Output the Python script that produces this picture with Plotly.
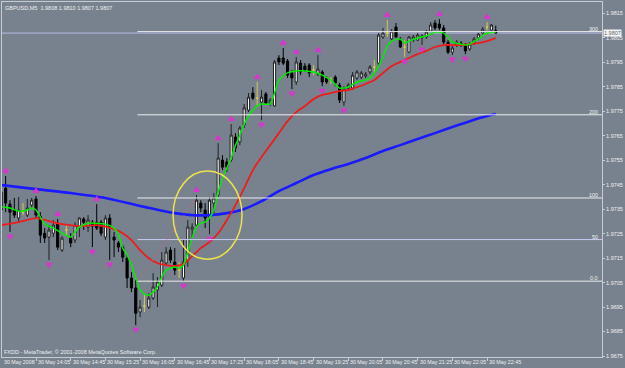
import plotly.graph_objects as go

# ---------------- data (GBPUSD, M5, 30 May 2008) ----------------
tick_idx = [0, 8, 16, 24, 32, 40, 48, 56, 64, 72, 80, 88, 96, 104, 112]
tick_labels = ["30 May 2008", "30 May 14:05", "30 May 14:45", "30 May 15:25", "30 May 16:05",
               "30 May 16:45", "30 May 17:25", "30 May 18:05", "30 May 18:45", "30 May 19:25",
               "30 May 20:05", "30 May 20:45", "30 May 21:25", "30 May 22:05", "30 May 22:45"]

price_ticks = [1.9675, 1.9685, 1.9695, 1.9705, 1.9715, 1.9725, 1.9735, 1.9745,
               1.9755, 1.9765, 1.9775, 1.9785, 1.9795, 1.9805, 1.9815]
price_labels = ["1.9675", "1.9685", "1.9695", "1.9705", "1.9715", "1.9725", "1.9735", "1.9745",
                "1.9755", "1.9765", "1.9775", "1.9785", "1.9795", "1.9805", "1.9815"]

opens = [1.97347, 1.97436, 1.97371, 1.97347, 1.97314, 1.97338, 1.97326, 1.97367, 1.97392, 1.97322,
         1.97252, 1.97236, 1.97252, 1.97293, 1.97183, 1.97265, 1.97232, 1.97224, 1.97277, 1.97310,
         1.97277, 1.97297, 1.97297, 1.97297, 1.97236, 1.97314, 1.97236, 1.97212, 1.97195, 1.97150,
         1.97069, 1.97028, 1.96930, 1.96954, 1.96950, 1.96987, 1.97020, 1.97040, 1.97130, 1.97183,
         1.97134, 1.97101, 1.97069, 1.97142, 1.97269, 1.97285, 1.97375, 1.97347, 1.97318, 1.97375,
         1.97408, 1.97551, 1.97543, 1.97551, 1.97645, 1.97625, 1.97694, 1.97755, 1.97825, 1.97804,
         1.97788, 1.97821, 1.97784, 1.97772, 1.97968, 1.97968, 1.97956, 1.97907, 1.97870, 1.97947,
         1.97935, 1.97939, 1.97919, 1.97902, 1.97911, 1.97886, 1.97878, 1.97890, 1.97858, 1.97788,
         1.97845, 1.97845, 1.97886, 1.97890, 1.97894, 1.97911, 1.97931, 1.97947, 1.98054, 1.98070,
         1.98046, 1.98095, 1.98046, 1.98013, 1.97992, 1.98041, 1.98041, 1.98050, 1.98054, 1.98078,
         1.98111, 1.98107, 1.98091, 1.98033, 1.97992, 1.98021, 1.98029, 1.98021, 1.98005, 1.98029,
         1.98050, 1.98070, 1.98095, 1.98082, 1.98080]
highs = [1.97428, 1.97486, 1.97387, 1.97396, 1.97400, 1.97375, 1.97392, 1.97396, 1.97404, 1.97338,
         1.97273, 1.97285, 1.97306, 1.97310, 1.97240, 1.97289, 1.97252, 1.97297, 1.97318, 1.97318,
         1.97326, 1.97306, 1.97371, 1.97306, 1.97326, 1.97330, 1.97257, 1.97220, 1.97203, 1.97163,
         1.97093, 1.97060, 1.96979, 1.96999, 1.97007, 1.97089, 1.97073, 1.97175, 1.97195, 1.97195,
         1.97191, 1.97134, 1.97224, 1.97306, 1.97293, 1.97408, 1.97387, 1.97375, 1.97400, 1.97416,
         1.97620, 1.97571, 1.97559, 1.97698, 1.97661, 1.97690, 1.97780, 1.97825, 1.97849, 1.97870,
         1.97837, 1.97829, 1.97804, 1.97960, 1.97980, 1.98009, 1.97964, 1.97919, 1.97972, 1.97960,
         1.97947, 1.97947, 1.97939, 1.97980, 1.97919, 1.97894, 1.97890, 1.97898, 1.97866, 1.97853,
         1.97866, 1.97911, 1.97919, 1.97915, 1.97911, 1.97939, 1.97960, 1.98070, 1.98091, 1.98123,
         1.98086, 1.98111, 1.98054, 1.98041, 1.98058, 1.98062, 1.98070, 1.98066, 1.98082, 1.98115,
         1.98123, 1.98127, 1.98103, 1.98041, 1.98017, 1.98041, 1.98037, 1.98029, 1.98033, 1.98054,
         1.98070, 1.98095, 1.98115, 1.98107, 1.98100]
lows = [1.97330, 1.97338, 1.97257, 1.97314, 1.97297, 1.97326, 1.97318, 1.97355, 1.97314, 1.97212,
        1.97212, 1.97142, 1.97236, 1.97183, 1.97175, 1.97244, 1.97195, 1.97212, 1.97236, 1.97265,
        1.97257, 1.97195, 1.97265, 1.97240, 1.97224, 1.97142, 1.97154, 1.97175, 1.97134, 1.97028,
        1.97011, 1.96876, 1.96909, 1.96930, 1.96942, 1.96979, 1.96950, 1.97032, 1.97122, 1.97130,
        1.97081, 1.97069, 1.97056, 1.97114, 1.97224, 1.97277, 1.97338, 1.97273, 1.97248, 1.97334,
        1.97400, 1.97510, 1.97502, 1.97543, 1.97584, 1.97612, 1.97682, 1.97747, 1.97796, 1.97768,
        1.97714, 1.97776, 1.97772, 1.97768, 1.97939, 1.97939, 1.97886, 1.97841, 1.97858, 1.97898,
        1.97911, 1.97890, 1.97898, 1.97894, 1.97853, 1.97862, 1.97862, 1.97853, 1.97784, 1.97772,
        1.97837, 1.97837, 1.97878, 1.97882, 1.97886, 1.97902, 1.97907, 1.97935, 1.98046, 1.98054,
        1.98041, 1.98050, 1.98009, 1.97972, 1.97988, 1.98033, 1.98037, 1.98021, 1.98046, 1.98074,
        1.98082, 1.98082, 1.98025, 1.97984, 1.97980, 1.98013, 1.98013, 1.97984, 1.97997, 1.98021,
        1.98041, 1.98066, 1.98082, 1.98078, 1.98068]
closes = [1.97420, 1.97375, 1.97338, 1.97326, 1.97347, 1.97338, 1.97355, 1.97387, 1.97326, 1.97244,
          1.97232, 1.97265, 1.97285, 1.97195, 1.97232, 1.97265, 1.97212, 1.97285, 1.97314, 1.97297,
          1.97306, 1.97281, 1.97273, 1.97252, 1.97314, 1.97277, 1.97224, 1.97195, 1.97154, 1.97069,
          1.97028, 1.96925, 1.96950, 1.96954, 1.96987, 1.97032, 1.97052, 1.97142, 1.97175, 1.97142,
          1.97101, 1.97101, 1.97134, 1.97277, 1.97277, 1.97387, 1.97355, 1.97314, 1.97387, 1.97396,
          1.97559, 1.97522, 1.97522, 1.97653, 1.97600, 1.97682, 1.97764, 1.97808, 1.97804, 1.97804,
          1.97808, 1.97784, 1.97796, 1.97952, 1.97952, 1.97947, 1.97898, 1.97886, 1.97952, 1.97911,
          1.97919, 1.97907, 1.97919, 1.97923, 1.97870, 1.97870, 1.97878, 1.97866, 1.97796, 1.97845,
          1.97858, 1.97898, 1.97911, 1.97907, 1.97902, 1.97931, 1.97931, 1.98062, 1.98070, 1.98070,
          1.98078, 1.98054, 1.98013, 1.98013, 1.98054, 1.98054, 1.98062, 1.98058, 1.98074, 1.98103,
          1.98091, 1.98091, 1.98033, 1.97992, 1.98009, 1.98033, 1.98025, 1.97997, 1.98025, 1.98046,
          1.98066, 1.98086, 1.98095, 1.98103, 1.98070]

# moving averages (bar index, price)
fast_idx = [0, 2, 4, 6, 7, 8, 9, 10, 12, 14, 16, 17, 18, 20, 22, 24, 26, 27, 28, 29,
            30, 31, 32, 33, 34, 35, 36, 37, 38, 40, 41, 42, 43, 44, 45, 46, 47, 48, 49, 50,
            51, 52, 53, 54, 55, 56, 57, 58, 59, 60, 62, 63, 64, 66, 68, 70, 72, 74, 76, 78,
            80, 82, 84, 85, 86, 87, 88, 89, 90, 92, 93, 94, 96, 98, 100, 102, 103, 104, 106, 107,
            108, 110, 112, 114]
fast_ma = [1.97359, 1.97355, 1.97342, 1.97347, 1.97355, 1.97347, 1.97318, 1.97289, 1.97273, 1.97252,
           1.97236, 1.97257, 1.97277, 1.97293, 1.97293, 1.97289, 1.97273, 1.97248, 1.97191, 1.97163,
           1.97122, 1.97069, 1.97020, 1.97003, 1.96999, 1.97011, 1.97032, 1.97073, 1.97101, 1.97114,
           1.97109, 1.97122, 1.97175, 1.97232, 1.97277, 1.97293, 1.97297, 1.97314, 1.97347, 1.97420,
           1.97477, 1.97518, 1.97559, 1.97612, 1.97653, 1.97698, 1.97731, 1.97755, 1.97772, 1.97780,
           1.97780, 1.97825, 1.97878, 1.97907, 1.97915, 1.97915, 1.97911, 1.97898, 1.97878, 1.97845,
           1.97849, 1.97870, 1.97878, 1.97886, 1.97907, 1.97935, 1.97972, 1.98017, 1.98037, 1.98046,
           1.98029, 1.98037, 1.98050, 1.98058, 1.98074, 1.98070, 1.98054, 1.98033, 1.98025, 1.98021,
           1.98025, 1.98046, 1.98070, 1.98074]
mid_idx = [0, 4, 8, 10, 14, 18, 22, 26, 28, 30, 32, 34, 36, 40, 42, 44, 46, 48, 50, 52,
           54, 56, 58, 60, 62, 64, 66, 68, 70, 72, 74, 76, 78, 80, 82, 84, 86, 88, 90, 92,
           94, 96, 98, 100, 102, 104, 106, 108, 110, 112, 114]
mid_ma = [1.97285, 1.97297, 1.97314, 1.97306, 1.97289, 1.97281, 1.97285, 1.97269, 1.97252, 1.97224,
          1.97183, 1.97150, 1.97130, 1.97118, 1.97126, 1.97158, 1.97191, 1.97216, 1.97252, 1.97306,
          1.97367, 1.97436, 1.97510, 1.97563, 1.97612, 1.97661, 1.97710, 1.97747, 1.97772, 1.97800,
          1.97817, 1.97825, 1.97833, 1.97837, 1.97849, 1.97862, 1.97878, 1.97907, 1.97935, 1.97952,
          1.97968, 1.97984, 1.97997, 1.98013, 1.98021, 1.98021, 1.98021, 1.98025, 1.98029, 1.98037,
          1.98050]
slow_idx = [0, 8, 16, 24, 32, 40, 44, 48, 52, 56, 60, 64, 68, 72, 76, 80, 84, 88, 92, 96,
            100, 104, 108, 112, 114]
slow_ma = [1.97449, 1.97432, 1.97416, 1.97396, 1.97363, 1.97334, 1.97326, 1.97326, 1.97334, 1.97351,
           1.97383, 1.97424, 1.97457, 1.97490, 1.97514, 1.97535, 1.97559, 1.97588, 1.97612, 1.97637,
           1.97661, 1.97686, 1.97710, 1.97731, 1.97739]

fractal_up = [1, 8, 13, 22, 45, 50, 53, 59, 65, 68, 73, 89, 101, 112]
fractal_dn = [2, 11, 21, 25, 31, 42, 48, 60, 67, 74, 79, 93, 97, 104, 107]

fib_low, fib_high = 1.97056, 1.97396
fib_levels = [0.0, 50.0, 100.0, 200.0, 300.0]
fib_texts = ["0.0", "50", "100", "200", "300"]
fib_start, fib_end = 31.4, 45.0
circle_x = (39.6, 55.5)
circle_y = (1.97146, 1.97506)

header = "GBPUSD,M5  1.9808 1.9810 1.9807 1.9807"
footer = "FXDD - MetaTrader, © 2001-2008 MetaQuotes Software Corp."

# ---------------- figure ----------------
BG = "#78828e"
FRAME = "#c6ccd3"
TXT = "#eef0f2"
FONT = "Liberation Sans Narrow, Liberation Sans"
X_RANGE = [0.16, 138.5]
Y_RANGE = [1.96746, 1.98197]

bar_idx = list(range(len(opens)))
is_doji = [o == c for o, c in zip(opens, closes)]


def pick(seq, flag):
    return [v for v, d in zip(seq, is_doji) if d == flag]


fig = go.Figure()
fig.add_trace(go.Candlestick(
    x=pick(bar_idx, False), open=pick(opens, False), high=pick(highs, False),
    low=pick(lows, False), close=pick(closes, False),
    increasing=dict(line=dict(color="#202020", width=1), fillcolor="#ffffff"),
    decreasing=dict(line=dict(color="#000000", width=1), fillcolor="#000000"),
    whiskerwidth=0, hoverinfo="skip", showlegend=False))
fig.add_trace(go.Candlestick(
    x=pick(bar_idx, True), open=pick(opens, True), high=pick(highs, True),
    low=pick(lows, True), close=pick(closes, True),
    increasing=dict(line=dict(color="#d8c84a", width=1), fillcolor="#d8c84a"),
    decreasing=dict(line=dict(color="#d8c84a", width=1), fillcolor="#d8c84a"),
    whiskerwidth=0, hoverinfo="skip", showlegend=False))

fig.add_trace(go.Scatter(x=slow_idx, y=slow_ma, mode="lines",
                         line=dict(color="#1a1aff", width=2.6, shape="spline", smoothing=0.8),
                         hoverinfo="skip", showlegend=False))
fig.add_trace(go.Scatter(x=mid_idx, y=mid_ma, mode="lines",
                         line=dict(color="#ee1c1c", width=1.8, shape="spline", smoothing=0.8),
                         hoverinfo="skip", showlegend=False))
fig.add_trace(go.Scatter(x=fast_idx, y=fast_ma, mode="lines",
                         line=dict(color="#00ee00", width=1.5, shape="spline", smoothing=0.6),
                         hoverinfo="skip", showlegend=False))

fig.add_trace(go.Scatter(x=fractal_up, y=[highs[i] + 0.00020 for i in fractal_up], mode="markers",
                         marker=dict(symbol="triangle-up-open", size=4.5, color="#e030d0",
                                     line=dict(width=1.5, color="#e030d0")),
                         hoverinfo="skip", showlegend=False))
fig.add_trace(go.Scatter(x=fractal_dn, y=[lows[i] - 0.00018 for i in fractal_dn], mode="markers",
                         marker=dict(symbol="triangle-down-open", size=4.5, color="#e030d0",
                                     line=dict(width=1.5, color="#e030d0")),
                         hoverinfo="skip", showlegend=False))

shapes = []
# bid line
shapes.append(dict(type="line", xref="paper", x0=0, x1=1, yref="y", y0=closes[-1], y1=closes[-1],
                   line=dict(color="#b8b8e8", width=1), layer="below"))
annotations = []
for lvl, txt in zip(fib_levels, fib_texts):
    yv = fib_low + (fib_high - fib_low) * lvl / 100.0
    col = "#c8c8f2" if lvl == 50.0 else "#ececec"
    shapes.append(dict(type="line", xref="x", x0=fib_start, x1=X_RANGE[1], yref="y", y0=yv, y1=yv,
                       line=dict(color=col, width=1)))
    annotations.append(dict(text=txt, xref="paper", x=1, xanchor="right", xshift=-2,
                            yref="y", y=yv, yanchor="bottom", yshift=-2, showarrow=False,
                            font=dict(family=FONT, size=5.5, color=TXT)))
shapes.append(dict(type="line", xref="x", x0=fib_start, x1=fib_end, yref="y", y0=fib_low, y1=fib_high,
                   line=dict(color="#d0607e", width=1, dash="dot")))
shapes.append(dict(type="circle", xref="x", x0=circle_x[0], x1=circle_x[1], yref="y",
                   y0=circle_y[0], y1=circle_y[1], line=dict(color="#eee44a", width=1.5)))

# time labels (MT4 left-aligns them at their tick)
for idx, lab in zip(tick_idx, tick_labels):
    annotations.append(dict(text=lab, xref="x", x=max(idx, X_RANGE[0] + 0.05), xanchor="left",
                            yref="paper", y=0, yanchor="top", yshift=0, showarrow=False,
                            font=dict(family=FONT, size=5.3, color=TXT)))
annotations.append(dict(text=header, xref="paper", x=0, xanchor="left", xshift=1,
                        yref="paper", y=1, yanchor="top", yshift=-1, showarrow=False,
                        font=dict(family=FONT, size=5.5, color=TXT)))
annotations.append(dict(text=footer, xref="paper", x=0, xanchor="left", xshift=0,
                        yref="paper", y=0, yanchor="bottom", yshift=0, showarrow=False,
                        font=dict(family=FONT, size=5.5, color=TXT)))
annotations.append(dict(text="1.9807", xref="paper", x=1, xanchor="left", xshift=1,
                        yref="y", y=closes[-1], yanchor="middle", showarrow=False,
                        bgcolor="#f4f4f4", borderpad=0,
                        font=dict(family=FONT, size=5.5, color="#5a6470")))

fig.update_layout(
    width=625, height=368, autosize=False,
    margin=dict(l=2, r=23, t=2, b=11, pad=0),
    paper_bgcolor=BG, plot_bgcolor=BG,
    boxgap=0.3,
    shapes=shapes, annotations=annotations,
    xaxis=dict(range=X_RANGE, showgrid=False, zeroline=False, rangeslider=dict(visible=False),
               showline=True, linecolor=FRAME, linewidth=1, mirror=True,
               tickmode="array", tickvals=tick_idx, ticks="outside", ticklen=3,
               tickcolor=FRAME, showticklabels=False, fixedrange=True),
    yaxis=dict(range=Y_RANGE, side="right", showgrid=False, zeroline=False,
               showline=True, linecolor=FRAME, linewidth=1, mirror=True,
               tickmode="array", tickvals=price_ticks, ticktext=price_labels,
               ticks="outside", ticklen=2, tickcolor=FRAME,
               tickfont=dict(family=FONT, size=5.5, color=TXT), fixedrange=True),
    showlegend=False,
)

fig.write_html("out.html")
